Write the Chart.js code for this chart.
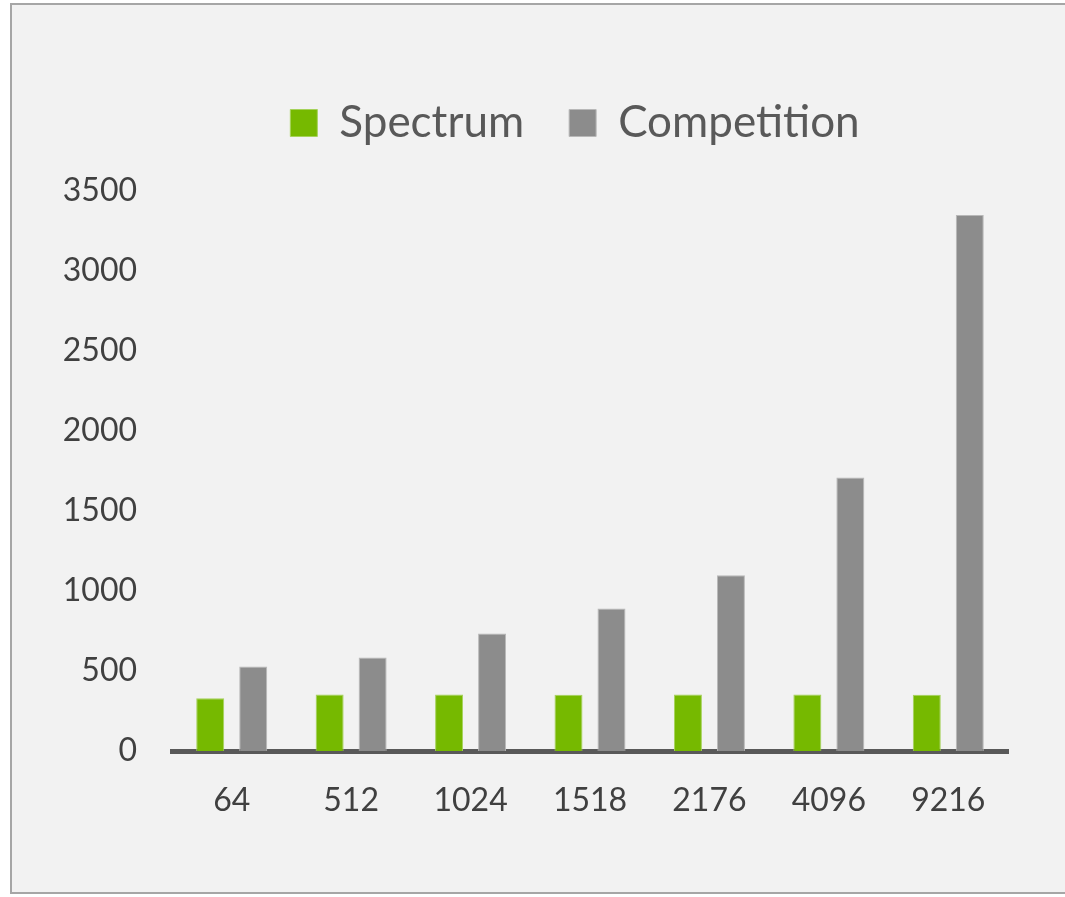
<!DOCTYPE html>
<html>
<head>
<meta charset="utf-8">
<script src="https://cdn.jsdelivr.net/npm/chart.js@4"></script>
<style>
  html, body { margin: 0; padding: 0; background: #ffffff; overflow: hidden; }
  #frame {
    position: absolute; left: 10px; top: 3px;
    width: 1100px; height: 887px;
    border: 2px solid #a6a6a6; border-right: none; background: #f2f2f2;
  }
  #chart { display: block; }
</style>
</head>
<body>
<div id="frame"><canvas id="chart" width="1053" height="887"></canvas></div>
<script>
// Packet sizes along the x axis
const categories = ["64", "512", "1024", "1518", "2176", "4096", "9216"];

// Series values
const spectrumValues = [330, 353, 353, 352, 353, 353, 351];
const competitionValues = [528, 585, 734, 890, 1098, 1709, 3350];

// Y axis range
const yMin = 0;
const yMax = 3500;
const yStep = 500;

// move the legend to where the reference has it (right and up a bit)
const legendShift = {
  id: "legendShift",
  afterLayout(chart) {
    const lg = chart.legend;
    lg.left += 65;
    lg.right += 65;
    lg.top -= 36;
    lg.bottom -= 36;
  }
};

const ctx = document.getElementById("chart").getContext("2d");
new Chart(ctx, {
  type: "bar",
  data: {
    labels: categories,
    datasets: [{
      label: "Spectrum",
      data: spectrumValues,
      backgroundColor: "#76b900",
      borderColor: "#a5d25a",
      borderWidth: 1,
      categoryPercentage: 0.72,
      barPercentage: 0.651
    }, {
      label: "Competition",
      data: competitionValues,
      backgroundColor: "#8c8c8c",
      borderColor: "#b8b8b8",
      borderWidth: 1,
      categoryPercentage: 0.72,
      barPercentage: 0.651
    }]
  },
  options: {
    responsive: false,
    animation: false,
    layout: { padding: { top: 87, right: 57, left: 0, bottom: 0 } },
    plugins: {
      tooltip: { enabled: false },
      legend: {
        position: "top",
        labels: {
          boxWidth: 27,
          boxHeight: 27,
          padding: 45,
          color: "#595959",
          font: { family: "Lato", size: 44 }
        }
      }
    },
    scales: {
      x: {
        grid: { display: false, drawTicks: false },
        border: { color: "#595959", width: 5 },
        ticks: {
          color: "#404040",
          padding: 30,
          font: { family: "Lato", size: 32 }
        },
        afterFit(scale) { scale.height = 141; }
      },
      y: {
        min: yMin,
        max: yMax,
        grid: { display: false, drawTicks: false },
        border: { display: false },
        ticks: {
          stepSize: yStep,
          color: "#404040",
          padding: 35,
          font: { family: "Lato", size: 32 },
          callback: (v) => String(v)
        },
        afterFit(scale) { scale.width = 160; }
      }
    }
  },
  plugins: [legendShift]
});
</script>
</body>
</html>
